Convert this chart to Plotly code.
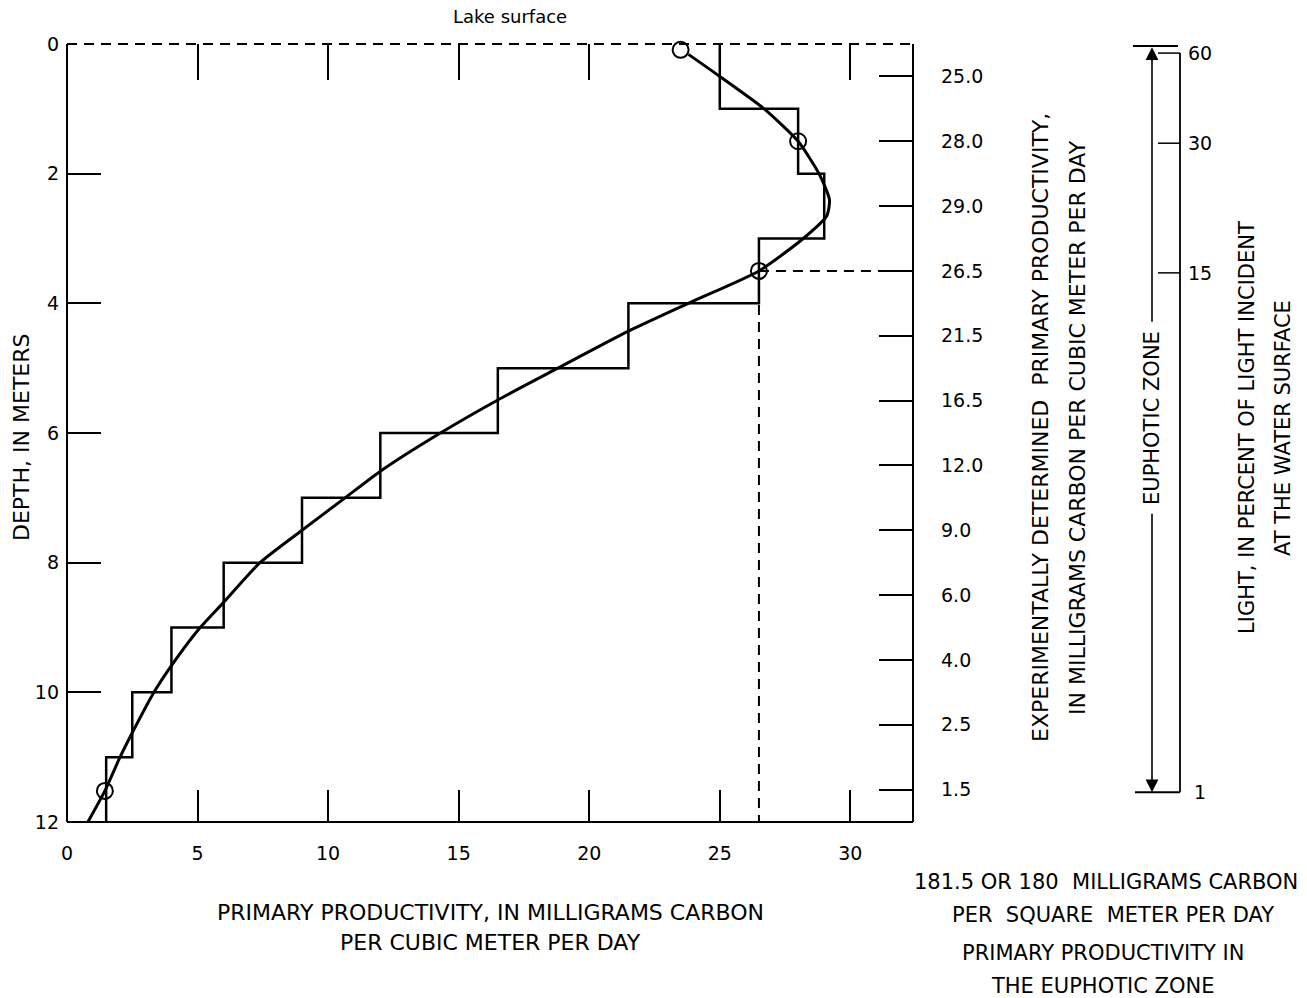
import plotly.graph_objects as go

# ---------------- data ----------------
depth_edges = list(range(0, 13))
step_values = [25.0, 28.0, 29.0, 26.5, 21.5, 16.5, 12.0, 9.0, 6.0, 4.0, 2.5, 1.5]
step_mid_depths = [0.5, 1.5, 2.5, 3.5, 4.5, 5.5, 6.5, 7.5, 8.5, 9.5, 10.5, 11.5]

curve_x = [23.8, 25.0, 26.7, 28.0, 28.8, 29.2, 29.1, 28.2, 26.5, 23.9, 21.5,
           18.8, 16.5, 14.3, 12.07, 10.65, 9.0, 7.39, 5.98, 5.06, 3.98, 3.33,
           2.53, 2.03, 1.45, 0.8]
curve_depth = [0.16, 0.5, 1.0, 1.5, 2.0, 2.4, 2.65, 3.0, 3.5, 3.98, 4.43,
               5.0, 5.49, 6.0, 6.57, 7.0, 7.5, 8.0, 8.62, 9.02, 9.6, 10.0,
               10.6, 11.0, 11.52, 12.0]

sample_x = [23.5, 28.0, 26.5, 1.45]
sample_depth = [0.09, 1.5, 3.5, 11.52]

light_pct = ["60", "30", "15", "1"]
light_depth = [0.14, 1.53, 3.53, 11.54]

x_ticks = [0, 5, 10, 15, 20, 25, 30]
x_top_ticks = [5, 10, 15, 20, 25, 30]
y_ticks = [0, 2, 4, 6, 8, 10, 12]

marked_value = 26.5
marked_depth = 3.5
X_MAX = 32.4
DEPTH_MAX = 12

# ---------------- layout helpers ----------------
W, H = 1307, 998
FONT = "DejaVu Sans"


def px(x):
    return x / W


def py(y):
    return 1 - y / H


step_x = [v for v in step_values for _ in (0, 1)]
step_y = [d for i in range(len(step_values)) for d in (depth_edges[i], depth_edges[i + 1])]

fig = go.Figure()

fig.add_trace(go.Scatter(x=step_x, y=step_y, mode="lines",
                         line=dict(color="black", width=2.5), hoverinfo="skip",
                         showlegend=False))
fig.add_trace(go.Scatter(x=curve_x, y=curve_depth, mode="lines",
                         line=dict(color="black", width=3, shape="spline", smoothing=0.6),
                         hoverinfo="skip", showlegend=False, cliponaxis=False))
fig.add_trace(go.Scatter(x=sample_x, y=sample_depth, mode="markers",
                         marker=dict(symbol="circle-open", size=16, color="black",
                                     line=dict(width=2, color="black")),
                         showlegend=False, cliponaxis=False))
# invisible traces to activate the extra axes
fig.add_trace(go.Scatter(x=[0], y=[0], xaxis="x2", yaxis="y", mode="markers",
                         marker=dict(opacity=0), showlegend=False, hoverinfo="skip"))
fig.add_trace(go.Scatter(x=[0], y=[0], xaxis="x", yaxis="y2", mode="markers",
                         marker=dict(opacity=0), showlegend=False, hoverinfo="skip"))

tickfont = dict(family=FONT, size=19, color="black")
common = dict(showgrid=False, zeroline=False, showline=False, ticks="inside",
              tickcolor="black", tickwidth=2, tickfont=tickfont, automargin=False)

fig.update_layout(
    width=W, height=H,
    margin=dict(l=0, r=0, t=0, b=0, autoexpand=False),
    paper_bgcolor="white", plot_bgcolor="white",
    xaxis=dict(domain=[px(67), px(913)], range=[0, X_MAX], tickvals=x_ticks,
               ticklen=32, anchor="y", side="bottom", ticklabelstandoff=18, **common),
    xaxis2=dict(domain=[px(67), px(913)], range=[0, X_MAX], tickvals=x_top_ticks,
                ticklen=36, overlaying="x", anchor="y", side="top",
                showticklabels=False, **common),
    yaxis=dict(domain=[py(822), py(44)], range=[DEPTH_MAX, 0], tickvals=y_ticks,
               ticklen=34, anchor="x", side="left", ticklabelstandoff=7, **common),
    yaxis2=dict(domain=[py(822), py(44)], range=[DEPTH_MAX, 0], tickvals=step_mid_depths,
                ticktext=[f"{v:.1f}" for v in step_values], ticklen=34,
                overlaying="y", anchor="x", side="right", ticklabelstandoff=27,
                **common),
)

shapes = []
line_k = dict(color="black", width=2)
dash_k = dict(color="black", width=2, dash="10px,7px")
# plot frame
shapes.append(dict(type="line", xref="x domain", yref="y domain", x0=0, x1=0, y0=0, y1=1, line=line_k))
shapes.append(dict(type="line", xref="x domain", yref="y domain", x0=1, x1=1, y0=0, y1=1, line=line_k))
shapes.append(dict(type="line", xref="x domain", yref="y domain", x0=0, x1=1, y0=0, y1=0, line=line_k))
shapes.append(dict(type="line", xref="x domain", yref="y domain", x0=0, x1=1, y0=1, y1=1, line=dash_k))
# dashed guides from the 15% light point
shapes.append(dict(type="line", xref="x", yref="y", x0=marked_value, x1=X_MAX,
                   y0=marked_depth, y1=marked_depth, line=dash_k))
shapes.append(dict(type="line", xref="x", yref="y", x0=marked_value, x1=marked_value,
                   y0=marked_depth, y1=DEPTH_MAX, line=dash_k))
# light axis
shapes.append(dict(type="line", xref="paper", yref="y", x0=px(1180), x1=px(1180),
                   y0=light_depth[0], y1=light_depth[-1], line=dict(color="black", width=1.8)))
for d in light_depth[:-1]:
    shapes.append(dict(type="line", xref="paper", yref="y", x0=px(1158), x1=px(1180),
                       y0=d, y1=d, line=dict(color="black", width=1.5)))
# euphotic zone bars
shapes.append(dict(type="line", xref="paper", yref="y", x0=px(1133), x1=px(1178),
                   y0=0.03, y1=0.03, line=dict(color="black", width=2)))
shapes.append(dict(type="line", xref="paper", yref="y", x0=px(1135), x1=px(1180),
                   y0=light_depth[-1], y1=light_depth[-1], line=dict(color="black", width=2)))
fig.update_layout(shapes=shapes)

ann = []


def text(t, x, y, size=21, angle=0, xanchor="center", yref="paper", yval=None):
    ann.append(dict(text=t, x=px(x), xref="paper",
                    y=(py(y) if yval is None else yval), yref=yref,
                    showarrow=False, textangle=angle, xanchor=xanchor, yanchor="middle",
                    font=dict(family=FONT, size=size, color="black")))


text("Lake surface", 510, 17, size=18)
text("DEPTH, IN METERS", 21, 437, size=22, angle=-90)
text("PRIMARY PRODUCTIVITY, IN MILLIGRAMS CARBON", 490, 912, size=22)
text("PER CUBIC METER PER DAY", 490, 942, size=22)
text("EXPERIMENTALLY DETERMINED  PRIMARY PRODUCTIVITY,", 1040, 428, size=22, angle=-90)
text("IN MILLIGRAMS CARBON PER CUBIC METER PER DAY", 1077, 428, size=22, angle=-90)
text("EUPHOTIC ZONE", 1152, 418, angle=-90)
text("LIGHT, IN PERCENT OF LIGHT INCIDENT", 1247, 428, angle=-90)
text("AT THE WATER SURFACE", 1283, 428, angle=-90)
text("181.5 OR 180  MILLIGRAMS CARBON", 1106, 882)
text("PER  SQUARE  METER PER DAY", 1113, 915)
text("PRIMARY PRODUCTIVITY IN", 1103, 953)
text("THE EUPHOTIC ZONE", 1102, 986)
for lab, d in zip(light_pct, light_depth):
    text(lab, 1200, 0, size=19, xanchor="center", yref="y", yval=d)

# euphotic arrows
ann.append(dict(x=px(1152), xref="paper", y=0.05, yref="y", text="", showarrow=True,
                ax=0, ay=276, axref="pixel", ayref="pixel", arrowhead=2, arrowsize=1.6,
                arrowwidth=1.6, arrowcolor="black", standoff=0))
ann.append(dict(x=px(1152), xref="paper", y=light_depth[-1], yref="y", text="", showarrow=True,
                ax=0, ay=-280, axref="pixel", ayref="pixel", arrowhead=2, arrowsize=1.6,
                arrowwidth=1.6, arrowcolor="black", standoff=0))
fig.update_layout(annotations=ann)

fig.write_html("out.html", config={"displayModeBar": False},
               post_script="document.body.style.margin='0';document.body.style.overflow='hidden';")
